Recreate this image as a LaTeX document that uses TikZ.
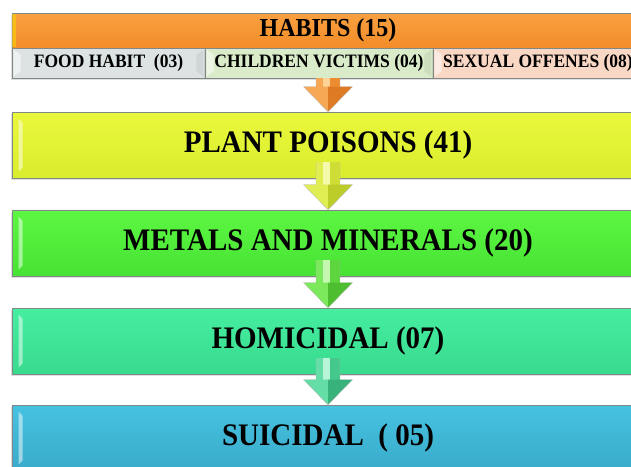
\documentclass[tikz,border=0pt]{standalone}
\usepackage{fontspec}
\usepackage{graphicx}
\setmainfont{Liberation Serif}
\usetikzlibrary{calc,shadows}
\definecolor{habT}{RGB}{250,160,64}\definecolor{habB}{RGB}{242,140,40}
\definecolor{plaT}{RGB}{234,248,60}\definecolor{plaB}{RGB}{218,236,46}
\definecolor{metT}{RGB}{92,246,66}\definecolor{metB}{RGB}{72,226,52}
\definecolor{homT}{RGB}{70,238,160}\definecolor{homB}{RGB}{56,218,142}
\definecolor{suiT}{RGB}{70,194,224}\definecolor{suiB}{RGB}{58,170,202}
\definecolor{foodC}{RGB}{221,227,227}
\definecolor{childC}{RGB}{217,235,201}
\definecolor{sexC}{RGB}{249,215,197}
\definecolor{edgeC}{RGB}{130,135,135}
\definecolor{ar1}{RGB}{238,140,50}\definecolor{ar1l}{RGB}{246,168,84}\definecolor{ar1d}{RGB}{222,122,36}\definecolor{ar1h}{RGB}{252,210,150}
\definecolor{ar2}{RGB}{206,222,52}\definecolor{ar2l}{RGB}{224,238,84}\definecolor{ar2d}{RGB}{188,204,40}\definecolor{ar2h}{RGB}{244,250,170}
\definecolor{ar3}{RGB}{92,214,60}\definecolor{ar3l}{RGB}{124,232,92}\definecolor{ar3d}{RGB}{76,190,48}\definecolor{ar3h}{RGB}{196,248,176}
\definecolor{ar4}{RGB}{68,200,140}\definecolor{ar4l}{RGB}{100,222,166}\definecolor{ar4d}{RGB}{54,178,122}\definecolor{ar4h}{RGB}{184,244,216}
\newcommand\tall[1]{\scalebox{1}[1.08]{#1}}
\tikzset{
  mainbox/.style={draw=edgeC, line width=0.6pt, minimum width=632pt, minimum height=66pt,
    inner sep=0pt, font=\fontsize{29}{32}\selectfont\bfseries,
    drop shadow={shadow xshift=-1pt, shadow yshift=-1.5pt, opacity=0.25}},
  subbox/.style={draw=edgeC, line width=0.6pt, minimum height=30pt, inner sep=0pt,
    font=\fontsize{17.5}{20}\selectfont\bfseries,
    drop shadow={shadow xshift=-1pt, shadow yshift=-1.5pt, opacity=0.25}},
  bevel/.style={fill=white, opacity=0.5},
  aredge/.style={draw=black!30, line width=0.3pt}
}
% block arrow: #1 start coord, #2 tip coord, #3 colour prefix
\newcommand\bkarrow[3]{%
  \fill[#3] ($(#1)+(-12pt,0)$) rectangle ($(#2)+(12pt,25pt)$);
  \fill[#3l] ($(#1)+(-12pt,0)$) rectangle ($(#2)+(-5pt,25pt)$);
  \fill[#3h] ($(#1)+(-5pt,0)$) rectangle ($(#2)+(2pt,25pt)$);
  \fill[#3l] (#2) -- ($(#2)+(-24.5pt,25pt)$) -- ($(#2)+(0,25pt)$) -- cycle;
  \fill[#3d] (#2) -- ($(#2)+(24.5pt,25pt)$) -- ($(#2)+(0,25pt)$) -- cycle;
  \draw[aredge] ($(#1)+(-12pt,0)$) -- ($(#2)+(-12pt,25pt)$) -- ($(#2)+(-24.5pt,25pt)$) -- (#2)
     -- ($(#2)+(24.5pt,25pt)$) -- ($(#2)+(12pt,25pt)$) -- ($(#1)+(12pt,0)$);
}
\newcommand\leftbevel[1]{%
  \fill[bevel] ($(#1.north west)+(7pt,-7pt)$) -- ($(#1.north west)+(11pt,-11pt)$)
    -- ($(#1.south west)+(11pt,11pt)$) -- ($(#1.south west)+(7pt,7pt)$) -- cycle;
}
\newcommand\subbevel[1]{%
  \fill[bevel] ($(#1.north west)+(2pt,-2pt)$) -- ($(#1.north west)+(9pt,-7pt)$)
    -- ($(#1.south west)+(9pt,7pt)$) -- ($(#1.south west)+(2pt,2pt)$) -- cycle;
  \fill[black, opacity=0.06] ($(#1.north east)+(-2pt,-2pt)$) -- ($(#1.north east)+(-9pt,-7pt)$)
    -- ($(#1.south east)+(-9pt,7pt)$) -- ($(#1.south east)+(-2pt,2pt)$) -- cycle;
}
\begin{document}
\begin{tikzpicture}[x=1pt,y=-1pt]
\useasboundingbox (0,0) rectangle (631,466);
\begin{scope}
\clip (0,0) rectangle (631,466);
% HABITS
\node[mainbox, minimum height=35pt, font=\fontsize{24}{28}\selectfont\bfseries,
      top color=habT, bottom color=habB] (habits) at (328,30.5) {\tall{HABITS (15)}};
\fill[yellow!70!orange, opacity=0.6] ($(habits.north west)+(0.5pt,-1pt)$) rectangle ($(habits.south west)+(4pt,1pt)$);
% sub row
\node[subbox, minimum width=193pt, fill=foodC] (food) at (108.5,63) {\tall{FOOD HABIT\ \ (03)}};
\node[subbox, minimum width=228pt, fill=childC] (child) at (319,63) {\tall{CHILDREN VICTIMS (04)}};
\node[subbox, minimum width=210pt, fill=sexC] (sexual) at (538,63) {\tall{SEXUAL OFFENES (08)}};
\subbevel{food}\subbevel{child}\subbevel{sexual}
% main boxes
\node[mainbox, top color=plaT, bottom color=plaB] (plant) at (328,145) {\tall{PLANT POISONS (41)}};
\node[mainbox, top color=metT, bottom color=metB] (metals) at (328,243) {\tall{METALS AND MINERALS (20)}};
\node[mainbox, top color=homT, bottom color=homB] (homicidal) at (328,341) {\tall{HOMICIDAL (07)}};
\node[mainbox, top color=suiT, bottom color=suiB] (suicidal) at (328,438) {\tall{SUICIDAL\ \ ( 05)}};
\leftbevel{plant}\leftbevel{metals}\leftbevel{homicidal}\leftbevel{suicidal}
% arrows
\coordinate (a1s) at (habits.south |- food.south);
\coordinate (a1t) at (plant.north);
\bkarrow{a1s}{a1t}{ar1}
\coordinate (a2s) at ($(plant.south)+(0,16pt)$);
\coordinate (a2t) at (metals.north);
\bkarrow{a2s}{a2t}{ar2}
\coordinate (a3s) at ($(metals.south)+(0,16pt)$);
\coordinate (a3t) at (homicidal.north);
\bkarrow{a3s}{a3t}{ar3}
\coordinate (a4s) at ($(homicidal.south)+(0,16pt)$);
\coordinate (a4t) at (suicidal.north);
\bkarrow{a4s}{a4t}{ar4}
\end{scope}
\end{tikzpicture}
\end{document}
